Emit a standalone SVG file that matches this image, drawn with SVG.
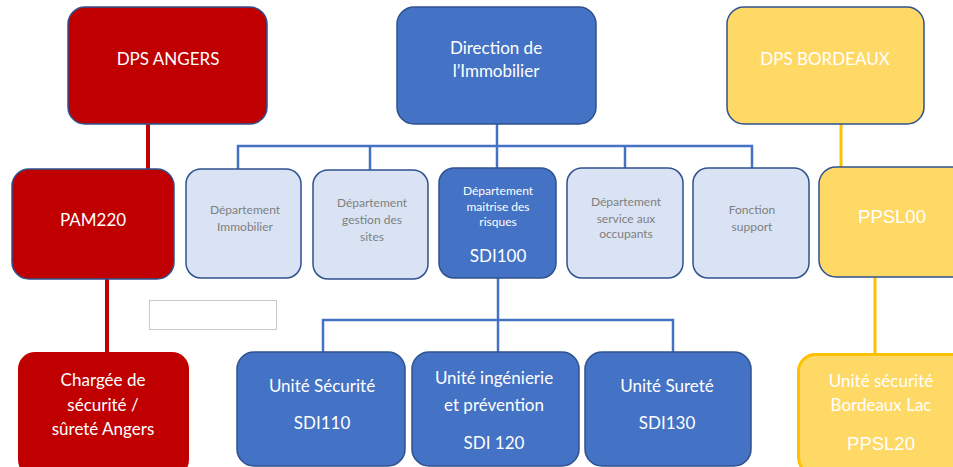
<svg xmlns="http://www.w3.org/2000/svg" width="953" height="467" viewBox="0 0 953 467">
<style>
text{font-family:Lato,"Open Sans","Noto Sans",sans-serif;text-anchor:middle;dominant-baseline:central}
.red{fill:#C00000;stroke:#2F528F;stroke-width:1.5}
.blue{fill:#4472C4;stroke:#2F528F;stroke-width:1.5}
.light{fill:#DAE3F3;stroke:#2F528F;stroke-width:1.5}
.yel{fill:#FFD966;stroke:#2F528F;stroke-width:1.5}
.w{fill:#FFFFFF;font-size:17px}
.g{fill:#7F7F7F;font-size:12px}
.ws{fill:#FFFFFF;font-size:12px}
.ar{font-family:"Liberation Sans",Arial,sans-serif;font-size:18.5px;fill:#FFFFFF}
.lb{fill:none;stroke:#4472C4;stroke-width:2.5}
.lr{fill:none;stroke:#C00000;stroke-width:4}
.ly{fill:none;stroke:#FFC000;stroke-width:3}
</style>
<rect width="953" height="467" fill="#FFFFFF"/>
<g id="connectors">
<path class="lr" d="M148 124V169"/>
<path class="lr" d="M107 279V353"/>
<path class="lb" d="M497 124V168"/>
<path class="lb" d="M238 169V146H752V169"/>
<path class="lb" d="M370 146V170"/>
<path class="lb" d="M625 146V168"/>
<path class="lb" d="M498 278V352"/>
<path class="lb" d="M323 352V320H673V352"/>
<path class="ly" d="M841 124V168"/>
<path class="ly" d="M875 277V353"/>
</g>
<rect x="149.5" y="300.5" width="127" height="29" fill="#FFFFFF" stroke="#C8C8C8" stroke-width="1"/>
<g id="dps-angers">
<rect class="red" x="68" y="7" width="199" height="117" rx="17"/>
<text class="w" x="168" y="58">DPS ANGERS</text>
</g>
<g id="pam220">
<rect class="red" x="12" y="169" width="162" height="110" rx="17"/>
<text class="w" x="93" y="219">PAM220</text>
</g>
<g id="chargee">
<rect x="18" y="352" width="171" height="125" rx="17" fill="#C00000"/>
<text class="w" x="103" y="379">Chargée de</text>
<text class="w" x="103" y="404">sécurité /</text>
<text class="w" x="103" y="428">sûreté Angers</text>
</g>
<g id="direction">
<rect class="blue" x="397" y="7" width="199" height="117" rx="17"/>
<text class="w" x="496" y="47">Direction de</text>
<text class="w" x="496" y="70">l’Immobilier</text>
</g>
<g id="dps-bordeaux">
<rect class="yel" x="727" y="7" width="197" height="117" rx="17"/>
<text class="w" x="825" y="58">DPS BORDEAUX</text>
</g>
<g id="dep-immobilier">
<rect class="light" x="186" y="169" width="115" height="109" rx="15"/>
<text class="g" x="245" y="209">Département</text>
<text class="g" x="245" y="226">Immobilier</text>
</g>
<g id="dep-gestion">
<rect class="light" x="313" y="170" width="115" height="109" rx="15"/>
<text class="g" x="372" y="202">Département</text>
<text class="g" x="372" y="219">gestion des</text>
<text class="g" x="372" y="236">sites</text>
</g>
<g id="sdi100">
<rect class="blue" x="439" y="168" width="117" height="110" rx="15"/>
<text class="ws" x="498" y="190">Département</text>
<text class="ws" x="498" y="206">maitrise des</text>
<text class="ws" x="498" y="221">risques</text>
<text class="w" x="498" y="255">SDI100</text>
</g>
<g id="dep-service">
<rect class="light" x="567" y="168" width="116" height="110" rx="15"/>
<text class="g" x="626" y="201">Département</text>
<text class="g" x="626" y="218">service aux</text>
<text class="g" x="626" y="233">occupants</text>
</g>
<g id="fonction-support">
<rect class="light" x="693" y="168" width="116" height="110" rx="15"/>
<text class="g" x="752" y="209">Fonction</text>
<text class="g" x="752" y="226">support</text>
</g>
<g id="ppsl00">
<rect class="yel" x="819" y="167" width="150" height="110" rx="17"/>
<text class="ar" x="892" y="216">PPSL00</text>
</g>
<g id="sdi110">
<rect class="blue" x="237" y="352" width="168" height="114" rx="17"/>
<text class="w" x="322" y="385">Unité Sécurité</text>
<text class="w" x="322" y="422">SDI110</text>
</g>
<g id="sdi120">
<rect class="blue" x="412" y="352" width="167" height="114" rx="17"/>
<text class="w" x="494" y="377">Unité ingénierie</text>
<text class="w" x="494" y="404">et prévention</text>
<text class="w" x="494" y="442">SDI 120</text>
</g>
<g id="sdi130">
<rect class="blue" x="585" y="352" width="166" height="114" rx="17"/>
<text class="w" x="667" y="385">Unité Sureté</text>
<text class="w" x="667" y="422">SDI130</text>
</g>
<g id="ppsl20">
<rect x="798.5" y="354.5" width="170" height="120" rx="17" fill="#FFD966" stroke="#FFC000" stroke-width="3"/>
<text class="w" x="881" y="380">Unité sécurité</text>
<text class="w" x="881" y="404">Bordeaux Lac</text>
<text class="ar" x="881" y="443">PPSL20</text>
</g>
</svg>
